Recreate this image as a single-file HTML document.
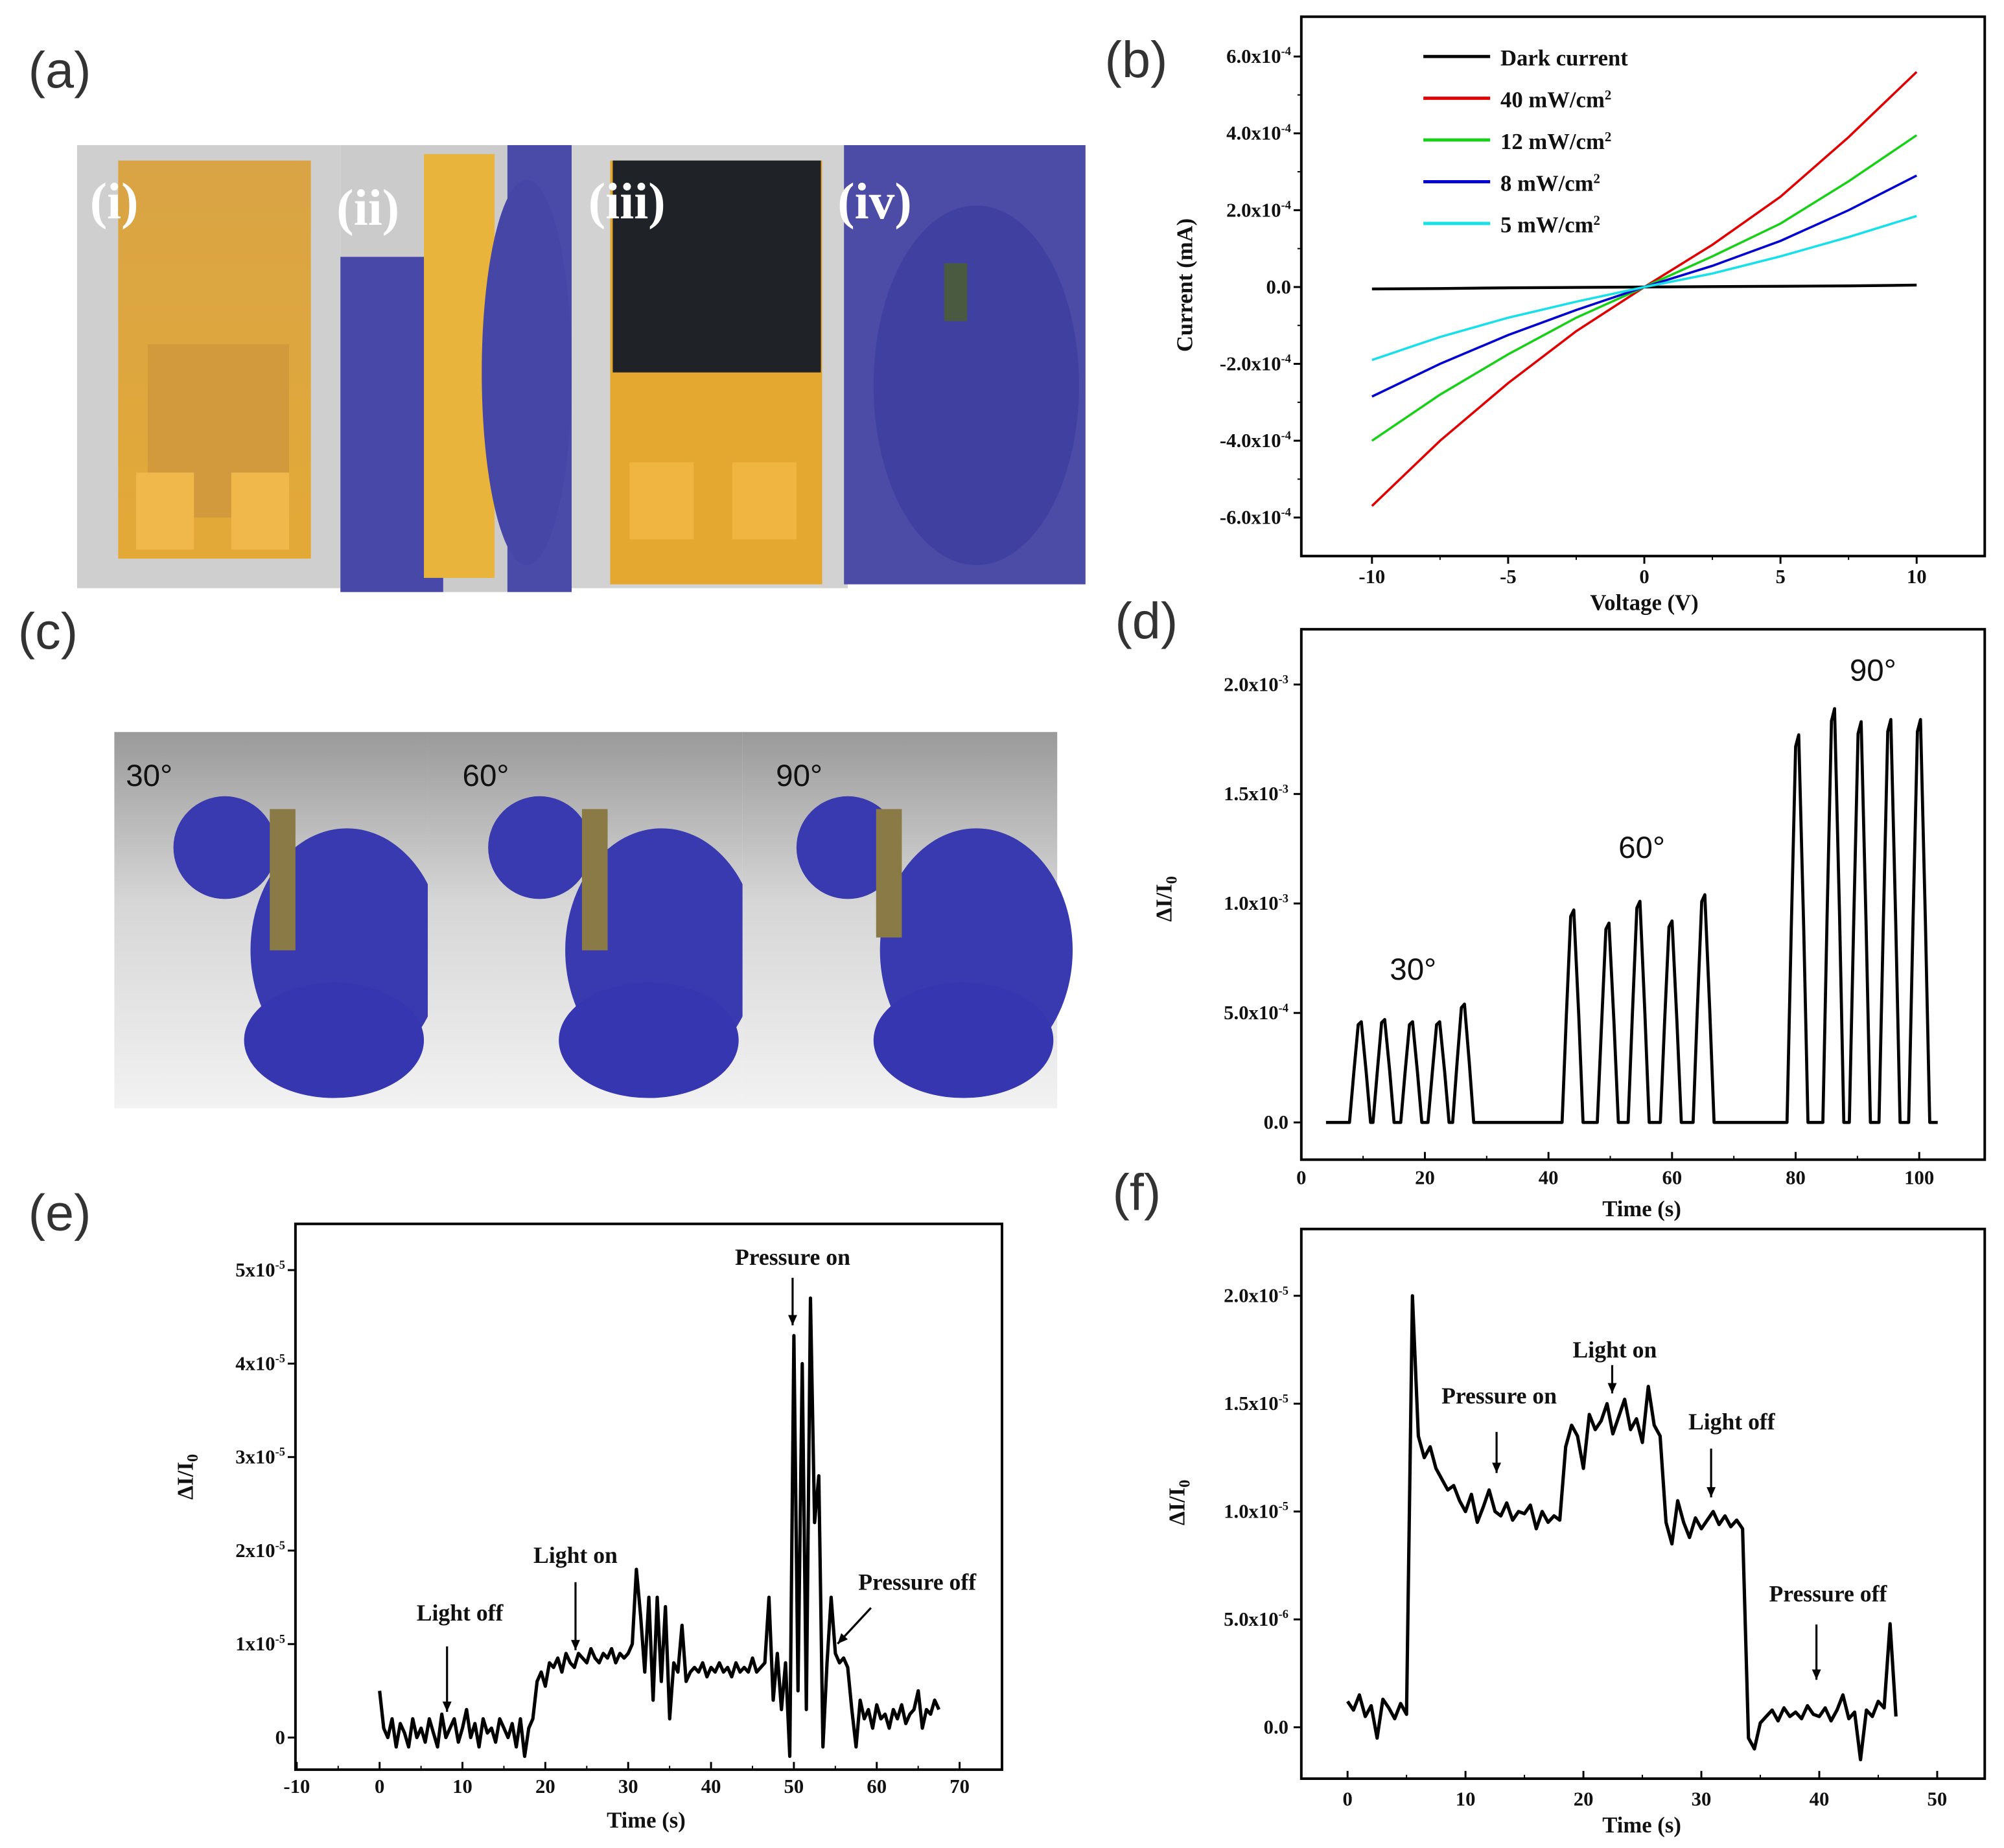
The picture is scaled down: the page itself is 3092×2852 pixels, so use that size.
<!DOCTYPE html>
<html><head><meta charset="utf-8"><style>
html,body{margin:0;padding:0;background:#fff}
svg{display:block}
.tk{font-family:"Liberation Serif",serif;font-weight:bold;font-size:15.5px;fill:#111}
.ti{font-family:"Liberation Serif",serif;font-weight:bold;font-size:17.5px;fill:#111}
.an{font-family:"Liberation Serif",serif;font-weight:bold;font-size:18px;fill:#111}
.pl{font-family:"Liberation Sans",sans-serif;font-size:40px;fill:#333}
.deg{font-family:"Liberation Sans",sans-serif;font-size:24px;fill:#111}
.rl{font-family:"Liberation Serif",serif;font-weight:bold;font-size:40px;fill:#fff}
</style></head><body>
<svg id="fig" xmlns="http://www.w3.org/2000/svg" width="3092" height="2852" viewBox="0 0 1560 1439" preserveAspectRatio="none">
<defs>
<linearGradient id="gy" x1="0" y1="0" x2="0" y2="1"><stop offset="0" stop-color="#d9a445"/><stop offset="1" stop-color="#e3a937"/></linearGradient>
<linearGradient id="bg1" x1="0" y1="0" x2="0" y2="1"><stop offset="0" stop-color="#9a9a9a"/><stop offset="0.45" stop-color="#d6d6d6"/><stop offset="1" stop-color="#f2f2f2"/></linearGradient>
</defs>
<text class="pl" x="22" y="68">(a)</text>
<text class="pl" x="860" y="60">(b)</text>
<text class="pl" x="14" y="505">(c)</text>
<text class="pl" x="868" y="497">(d)</text>
<text class="pl" x="22" y="958">(e)</text>
<text class="pl" x="866" y="942">(f)</text>

<g>
<rect x="60" y="113" width="205" height="345" fill="#cfcfcf"/>
<rect x="92" y="125" width="150" height="310" fill="url(#gy)"/>
<rect x="115" y="268" width="110" height="135" fill="#d29a3c"/>
<rect x="106" y="368" width="45" height="60" fill="#f0b84a"/>
<rect x="180" y="368" width="45" height="60" fill="#f0b84a"/>
<text class="rl" x="70" y="170">(i)</text>
</g>
<g>
<rect x="265" y="113" width="180" height="348" fill="#cbcbcb"/>
<rect x="265" y="200" width="80" height="261" fill="#4848a8"/>
<rect x="395" y="113" width="50" height="348" fill="#4a4aa8"/>
<rect x="330" y="120" width="55" height="330" fill="#e8b43c"/>
<ellipse cx="410" cy="290" rx="35" ry="150" fill="#4646a6"/>
<text class="rl" x="262" y="175">(ii)</text>
</g>
<g>
<rect x="445" y="113" width="215" height="345" fill="#d2d2d2"/>
<rect x="475" y="125" width="165" height="330" fill="#e4a830"/>
<rect x="477" y="125" width="162" height="165" fill="#1f2328"/>
<rect x="490" y="360" width="50" height="60" fill="#f0b440"/>
<rect x="570" y="360" width="50" height="60" fill="#f0b440"/>
<text class="rl" x="458" y="170">(iii)</text>
</g>
<g>
<rect x="657" y="113" width="188" height="342" fill="#4c4ca6"/>
<ellipse cx="760" cy="300" rx="80" ry="140" fill="#4040a0"/>
<rect x="735" y="205" width="18" height="45" fill="#4a5a40"/>
<text class="rl" x="652" y="170">(iv)</text>
</g>
<g>
<rect x="89" y="570" width="244" height="293" fill="url(#bg1)"/>
<ellipse cx="270" cy="740" rx="75" ry="95" fill="#3a3ab0"/>
<ellipse cx="260" cy="810" rx="70" ry="45" fill="#3636b0"/>
<ellipse cx="175" cy="660" rx="40" ry="40" fill="#3a3ab0"/>
<rect x="210" y="630" width="20" height="110" fill="#8a7a45"/>
<text class="deg" x="98" y="612">30°</text>
</g>
<g>
<rect x="333" y="570" width="245" height="293" fill="url(#bg1)"/>
<ellipse cx="515" cy="740" rx="75" ry="95" fill="#3a3ab0"/>
<ellipse cx="505" cy="810" rx="70" ry="45" fill="#3636b0"/>
<ellipse cx="420" cy="660" rx="40" ry="40" fill="#3a3ab0"/>
<rect x="453" y="630" width="20" height="110" fill="#8a7a45"/>
<text class="deg" x="360" y="612">60°</text>
</g>
<g>
<rect x="578" y="570" width="245" height="293" fill="url(#bg1)"/>
<ellipse cx="760" cy="740" rx="75" ry="95" fill="#3a3ab0"/>
<ellipse cx="750" cy="810" rx="70" ry="45" fill="#3636b0"/>
<ellipse cx="660" cy="660" rx="40" ry="40" fill="#3a3ab0"/>
<rect x="682" y="630" width="20" height="100" fill="#8a7a45"/>
<text class="deg" x="604" y="612">90°</text>
</g>
<g id="charts"></g>
</svg>
<script>
const ivVoltage=[-10,-7.5,-5,-2.5,0,2.5,5,7.5,10];
const ivDark=[-0.05,-0.04,-0.02,-0.01,0,0.01,0.02,0.03,0.05];
const iv40=[-5.7,-4.0,-2.5,-1.15,0,1.1,2.35,3.9,5.6];
const iv12=[-4.0,-2.8,-1.75,-0.8,0,0.8,1.65,2.75,3.95];
const iv8=[-2.85,-2.0,-1.25,-0.6,0,0.55,1.2,2.0,2.9];
const iv5=[-1.9,-1.3,-0.8,-0.38,0,0.35,0.8,1.3,1.85];
const ivLegend=["Dark current","40 mW/cm","12 mW/cm","8 mW/cm","5 mW/cm"];
const bYTicks=[-6,-4,-2,0,2,4,6];
const bXTicks=[-10,-5,0,5,10];

const bendPeakTimes=[9.5,13.3,17.8,22.2,26.2,43.9,49.6,54.6,59.8,65.1,80.3,86.1,90.4,95.2,100];
const bendPeakHeights=[4.6,4.7,4.6,4.6,5.4,9.7,9.1,10.1,9.2,10.4,17.7,18.9,18.3,18.4,18.4];
const dYTicks=[0,5,10,15,20];
const dYLabels=["0.0","5.0x10","1.0x10","1.5x10","2.0x10"];
const dYExp=["","-4","-3","-3","-3"];
const dXTicks=[0,20,40,60,80,100];

const eStart=0, eStep=0.5;
const eValues=[0.5,0.1,0.0,0.2,-0.1,0.15,0.05,-0.1,0.2,0.0,0.1,-0.05,0.2,0.05,-0.1,0.25,0.0,0.1,0.2,-0.05,0.1,0.3,0.0,0.15,-0.1,0.2,0.05,0.1,-0.05,0.2,0.1,0.0,0.15,-0.1,0.2,-0.2,0.1,0.2,
0.6,0.7,0.55,0.8,0.75,0.85,0.7,0.9,0.8,0.75,0.9,0.85,0.8,0.95,0.85,0.8,0.9,0.85,0.95,0.8,0.9,0.85,0.9,1.0,
1.8,1.3,0.7,1.5,0.4,1.5,0.6,1.4,0.2,0.8,0.7,1.2,0.6,0.7,
0.75,0.7,0.8,0.65,0.75,0.7,0.8,0.7,0.75,0.65,0.8,0.7,0.75,0.7,0.85,0.7,0.75,0.8,
1.5,0.4,0.9,0.3,0.8,-0.2,4.3,0.5,4.0,0.3,4.7,2.3,2.8,-0.1,0.8,1.5,0.9,0.8,0.85,0.75,
0.3,-0.1,0.4,0.2,0.3,0.1,0.35,0.2,0.25,0.1,0.3,0.2,0.35,0.15,0.25,0.3,0.5,0.1,0.3,0.25,0.4,0.3];
const eYTicks=[0,1,2,3,4,5];
const eXTicks=[-10,0,10,20,30,40,50,60,70];

const fStart=0, fStep=0.5;
const fValues=[1.2,0.8,1.5,0.5,1.0,-0.5,1.3,0.9,0.4,1.1,0.6,
20.0,13.5,12.5,
13,12,11.5,11,11.2,10.5,10,10.8,9.5,10.2,11,10,9.8,10.4,9.6,10,9.9,10.3,9.2,10,9.5,9.8,9.6,
13,14,13.5,12,14.5,13.8,14.2,15,13.6,14.4,15.2,13.8,14.3,13.2,15.8,14,13.5,
9.5,8.5,10.5,9.5,8.8,9.7,9.2,9.6,10,9.4,9.8,9.3,9.6,9.2,
-0.5,-1,0.2,0.5,0.8,0.3,0.9,0.5,0.7,0.4,1.0,0.6,0.5,0.9,0.3,0.8,1.5,0.4,0.7,-1.5,0.8,0.5,1.2,0.9,4.8,0.5];
const fYTicks=[0,5,10,15,20];
const fYLabels=["0.0","5.0x10","1.0x10","1.5x10","2.0x10"];
const fYExp=["","-6","-5","-5","-5"];
const fXTicks=[0,10,20,30,40,50];

const NS="http://www.w3.org/2000/svg";
const root=document.getElementById('charts');
function mk(tag,attrs,parent){const e=document.createElementNS(NS,tag);for(const k in attrs)e.setAttribute(k,attrs[k]);(parent||root).appendChild(e);return e;}
function lin(d0,d1,r0,r1){return v=>r0+(v-d0)*(r1-r0)/(d1-d0);}
function txt(str,x,y,cls,anchor,parent,exp){const t=mk('text',{x:x,y:y,'class':cls,'text-anchor':anchor||'start'},parent);t.appendChild(document.createTextNode(str));if(exp){const s=mk('tspan',{dy:-6,'font-size':'0.6em'},t);s.textContent=exp;}return t;}
function frame(g,x0,y0,x1,y1){mk('rect',{x:x0,y:y0,width:x1-x0,height:y1-y0,fill:'none',stroke:'#000','stroke-width':2},g);}
function pathFrom(xs,ys,sx,sy){let d='';for(let i=0;i<xs.length;i++)d+=(i?'L':'M')+sx(xs[i]).toFixed(1)+','+sy(ys[i]).toFixed(1);return d;}

(function(){
const g=mk('g',{});


const X0=1013,X1=1545,Y0=13,Y1=433;
const sx=lin(-10,10,1068,1492), sy=lin(-6,6,403,44);
frame(g,X0,Y0,X1,Y1);
bYTicks.forEach(v=>{const y=sy(v);mk('line',{x1:X0,x2:X0-6,y1:y,y2:y,stroke:'#000','stroke-width':1.5},g);
 const t=txt(v===0?'0.0':v.toFixed(1)+'x10',1005,y+5,'tk','end',g,v===0?null:'-4');
 
 const m=sy(v+1);if(v<6){mk('line',{x1:X0,x2:X0-3,y1:m,y2:m,stroke:'#000','stroke-width':1},g);}});
bXTicks.forEach(v=>{const x=sx(v);mk('line',{x1:x,x2:x,y1:Y1,y2:Y1+6,stroke:'#000','stroke-width':1.5},g);
 const t=txt(String(v),x,454,'tk','middle',g);
 if(v<10){const m=sx(v+2.5);mk('line',{x1:m,x2:m,y1:Y1,y2:Y1+3,stroke:'#000','stroke-width':1},g);}});
const series=[[ivDark,'#000'],[iv40,'#e00000'],[iv12,'#19d019'],[iv8,'#0000d0'],[iv5,'#18e0e8']];
series.forEach((s,i)=>{const p=mk('path',{d:pathFrom(ivVoltage,s[0],sx,sy),fill:'none',stroke:s[1],'stroke-width':i===0?2.2:1.8},g);
 
 const ly=44+i*32.5;mk('line',{x1:1108,x2:1160,y1:ly,y2:ly,stroke:s[1],'stroke-width':2.5},g);
 const t=txt(ivLegend[i],1168,ly+7,'ti','start',g,i===0?null:'2');t.setAttribute('font-size','19');});
const yt=txt('Current (mA)',0,0,'ti','middle',g);yt.setAttribute('transform','translate(928,222) rotate(-90)');
const xt=txt('Voltage (V)',1280,475,'ti','middle',g);
})();

(function(){
const g=mk('g',{});


const X0=1013,X1=1545,Y0=490,Y1=903;
const sx=lin(0,100,1013,1494), sy=lin(0,20,874,533);
frame(g,X0,Y0,X1,Y1);
dYTicks.forEach((v,i)=>{const y=sy(v);mk('line',{x1:X0,x2:X0-6,y1:y,y2:y,stroke:'#000','stroke-width':1.5},g);
 const t=txt(dYLabels[i],1003,y+5,'tk','end',g,dYExp[i]||null);});
dXTicks.forEach(v=>{const x=sx(v);mk('line',{x1:x,x2:x,y1:Y1,y2:Y1-6,stroke:'#000','stroke-width':1.5},g);
 const t=txt(String(v),x,922,'tk','middle',g);
 if(v<100){const m=sx(v+10);mk('line',{x1:m,x2:m,y1:Y1,y2:Y1-3,stroke:'#000','stroke-width':1},g);}});
const ts=[4],hs=[0];
bendPeakTimes.forEach((t,i)=>{ts.push(t-1.7,t-1.0,t-0.3,t+0.2,t+1.0,t+1.7);hs.push(0,bendPeakHeights[i]*0.5,bendPeakHeights[i]*0.97,bendPeakHeights[i],bendPeakHeights[i]*0.5,0);});
ts.push(103);hs.push(0);
const p=mk('path',{d:pathFrom(ts,hs,sx,sy),fill:'none',stroke:'#000','stroke-width':2.4,'stroke-linejoin':'round'},g);

[['30°',1100,763],['60°',1278,668],['90°',1458,530]].forEach(a=>{const t=txt(a[0],a[1],a[2],'deg','middle',g);});
const yt=txt('ΔI/I',0,0,'ti','middle',g);mk('tspan',{dy:4,'font-size':'0.7em'},yt).textContent='0';
yt.setAttribute('transform','translate(912,700) rotate(-90)');
const xt=txt('Time (s)',1278,947,'ti','middle',g);
})();

function arrow(g,x1,y1,x2,y2){mk('line',{x1:x1,y1:y1,x2:x2,y2:y2,stroke:'#000','stroke-width':1.6},g);
 const a=Math.atan2(y2-y1,x2-x1),L=8,w=3.5;
 mk('polygon',{points:`${x2},${y2} ${x2-L*Math.cos(a)+w*Math.sin(a)},${y2-L*Math.sin(a)-w*Math.cos(a)} ${x2-L*Math.cos(a)-w*Math.sin(a)},${y2-L*Math.sin(a)+w*Math.cos(a)}`,fill:'#000'},g);}

(function(){
const g=mk('g',{});


const X0=230,X1=780,Y0=953,Y1=1378;
const sx=lin(0,10,295.5,360), sy=lin(0,1,1353,1280.2);
frame(g,X0,Y0,X1,Y1);
eYTicks.forEach(v=>{const y=sy(v);mk('line',{x1:X0,x2:X0-6,y1:y,y2:y,stroke:'#000','stroke-width':1.5},g);
 const t=txt(v===0?'0':v+'x10',222,y+5,'tk','end',g,v===0?null:'-5');});
eXTicks.forEach(v=>{const x=sx(v);mk('line',{x1:x,x2:x,y1:Y1,y2:Y1-6,stroke:'#000','stroke-width':1.5},g);
 const t=txt(String(v),x,1396,'tk','middle',g);
 if(v<70){const m=sx(v+5);mk('line',{x1:m,x2:m,y1:Y1,y2:Y1-3,stroke:'#000','stroke-width':1},g);}});
const ts=eValues.map((_,i)=>eStart+i*eStep);
const p=mk('path',{d:pathFrom(ts,eValues,sx,sy),fill:'none',stroke:'#000','stroke-width':2.6,'stroke-linejoin':'round'},g);

[['Light off',358,1262],['Light on',448,1217],['Pressure on',617,985],['Pressure off',714,1238]].forEach(a=>{const t=txt(a[0],a[1],a[2],'an','middle',g);});
arrow(g,348,1282,348,1333);arrow(g,448,1232,448,1285);arrow(g,617,995,617,1032);arrow(g,678,1252,652,1280);
const yt=txt('ΔI/I',0,0,'ti','middle',g);mk('tspan',{dy:4,'font-size':'0.7em'},yt).textContent='0';
yt.setAttribute('transform','translate(150,1150) rotate(-90)');
const xt=txt('Time (s)',503,1423,'ti','middle',g);
})();

(function(){
const g=mk('g',{});


const X0=1013,X1=1545,Y0=957,Y1=1385;
const sx=lin(0,50,1049,1508), sy=lin(0,20,1345,1009);
frame(g,X0,Y0,X1,Y1);
fYTicks.forEach((v,i)=>{const y=sy(v);mk('line',{x1:X0,x2:X0-6,y1:y,y2:y,stroke:'#000','stroke-width':1.5},g);
 const t=txt(fYLabels[i],1003,y+5,'tk','end',g,fYExp[i]||null);});
fXTicks.forEach(v=>{const x=sx(v);mk('line',{x1:x,x2:x,y1:Y1,y2:Y1-6,stroke:'#000','stroke-width':1.5},g);
 const t=txt(String(v),x,1406,'tk','middle',g);
 if(v<50){const m=sx(v+5);mk('line',{x1:m,x2:m,y1:Y1,y2:Y1-3,stroke:'#000','stroke-width':1},g);}});
const ts=fValues.map((_,i)=>fStart+i*fStep);
const p=mk('path',{d:pathFrom(ts,fValues,sx,sy),fill:'none',stroke:'#000','stroke-width':2.6,'stroke-linejoin':'round'},g);

[['Pressure on',1167,1093],['Light on',1257,1057],['Light off',1348,1113],['Pressure off',1423,1247]].forEach(a=>{const t=txt(a[0],a[1],a[2],'an','middle',g);});
arrow(g,1165,1115,1165,1147);arrow(g,1255,1063,1255,1085);arrow(g,1332,1128,1332,1166);arrow(g,1414,1265,1414,1308);
const yt=txt('ΔI/I',0,0,'ti','middle',g);mk('tspan',{dy:4,'font-size':'0.7em'},yt).textContent='0';
yt.setAttribute('transform','translate(922,1170) rotate(-90)');
const xt=txt('Time (s)',1278,1427,'ti','middle',g);
})();
</script>
</body></html>
